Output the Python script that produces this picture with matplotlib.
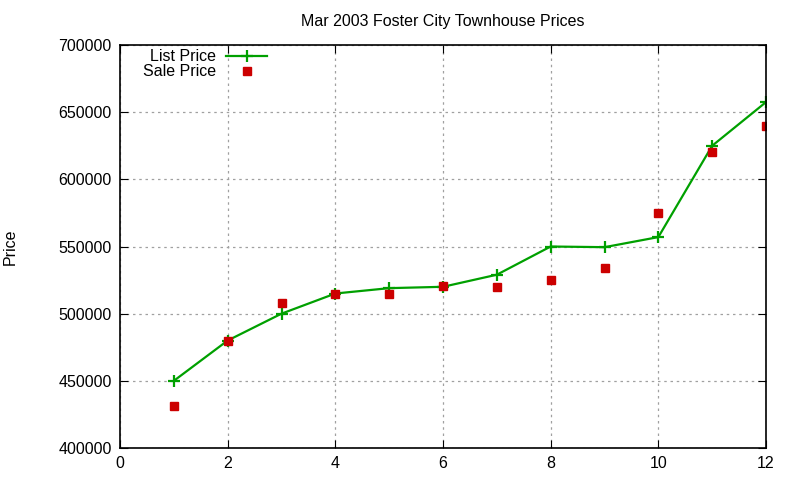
import numpy as np
import matplotlib.pyplot as plt

plt.rcParams['font.family'] = ['Liberation Sans', 'DejaVu Sans']

months = [1, 2, 3, 4, 5, 6, 7, 8, 9, 10, 11, 12]
list_price = [450000, 480000, 500000, 515000, 519000, 520000, 529000, 550000, 549500, 557000, 625000, 657500]
sale_price = [431000, 480000, 508000, 515000, 515000, 520500, 520000, 525000, 534000, 575000, 620000, 640000]

fig = plt.figure(figsize=(8, 4.8), dpi=100)
ax = fig.add_axes([0.15, 0.0667, 0.8075, 0.8395])

ax.plot(months, list_price, color='#00a000', lw=1.6, marker='+', ms=9, mew=1.6, label='List Price')
ax.plot(months, sale_price, ls='none', marker='s', ms=6, color='#cc0000', label='Sale Price')

ax.set_xlim(0, 12)
ax.set_ylim(400000, 700000)
ax.set_xticks(np.arange(0, 13, 2))
ax.set_yticks(np.arange(400000, 700001, 50000))
ax.tick_params(direction='in', top=True, right=True, labelsize=11.5, length=6, pad=6)
ax.grid(True, ls=(0, (2, 3)), color='#a0a0a0', lw=0.9)
for s in ax.spines.values():
    s.set_linewidth(1.2)

ax.set_title('Mar 2003 Foster City Townhouse Prices', fontsize=11.5, pad=14)
ax.set_ylabel('Price', fontsize=11.5, labelpad=29)

leg = ax.legend(loc='upper left', bbox_to_anchor=(0.021, 1.013), frameon=False, markerfirst=False,
                fontsize=11.5, handlelength=2.6, handletextpad=0.6, borderaxespad=0.2, labelspacing=0.0)

fig.savefig('out.png', dpi=100)
